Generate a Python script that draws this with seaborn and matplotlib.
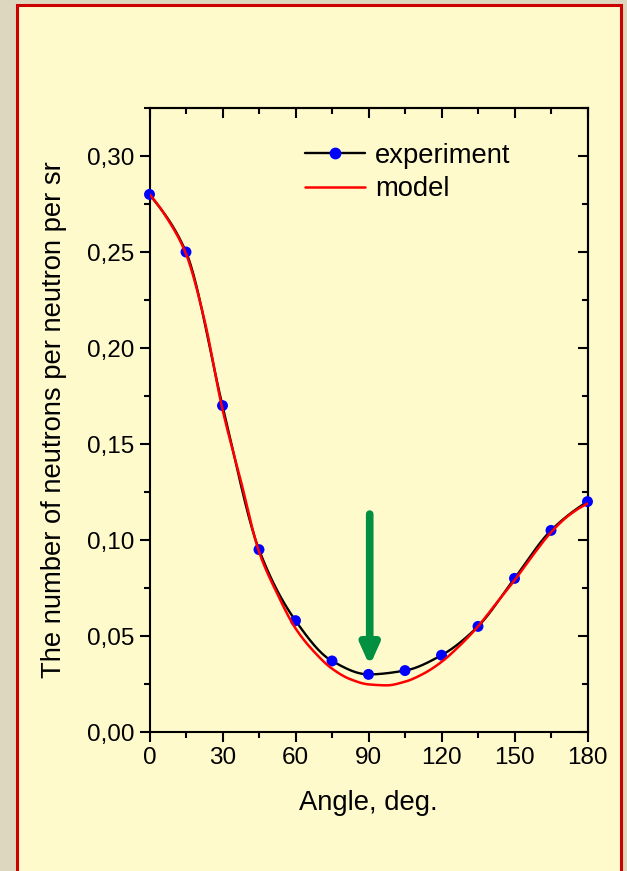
import numpy as np
import pandas as pd
import matplotlib
matplotlib.use("Agg")
import matplotlib.pyplot as plt
from matplotlib.patches import Rectangle
from matplotlib.lines import Line2D
from matplotlib.ticker import MultipleLocator, FuncFormatter
import seaborn as sns

# ---- data ----
exp_angle = [0, 15, 30, 45, 60, 75, 90, 105, 120, 135, 150, 165, 180]
exp_value = [0.280, 0.250, 0.170, 0.095, 0.058, 0.037, 0.030, 0.032, 0.040, 0.055, 0.080, 0.105, 0.120]

model_angle = [0, 7.5, 15, 22.5, 30, 37.5, 45, 52.5, 60, 67.5, 75, 82.5, 90, 97.5,
               105, 112.5, 120, 127.5, 135, 142.5, 150, 157.5, 165, 172.5, 180]
model_value = [0.280, 0.267, 0.249, 0.215, 0.168, 0.131, 0.094, 0.072, 0.054, 0.042,
               0.033, 0.0275, 0.0248, 0.0243, 0.0262, 0.0303, 0.0365, 0.045, 0.055, 0.067,
               0.079, 0.092, 0.104, 0.113, 0.119]

x_ticks = [0, 30, 60, 90, 120, 150, 180]
y_ticks = [0.00, 0.05, 0.10, 0.15, 0.20, 0.25, 0.30]


def smooth_connect(x, y, n=500):
    """Shape-preserving Hermite curve used only as the smooth line style joining points."""
    x = np.asarray(x, float); y = np.asarray(y, float)
    h = np.diff(x); delta = np.diff(y) / h
    m = len(x); d = np.zeros(m)
    for k in range(1, m - 1):
        if delta[k - 1] * delta[k] > 0:
            w1 = 2 * h[k] + h[k - 1]; w2 = h[k] + 2 * h[k - 1]
            d[k] = (w1 + w2) / (w1 / delta[k - 1] + w2 / delta[k])
    d[0] = 0.8 * delta[0]
    d[-1] = 0.8 * delta[-1]
    xs = np.linspace(x[0], x[-1], n)
    i = np.clip(np.searchsorted(x, xs) - 1, 0, m - 2)
    t = (xs - x[i]) / h[i]
    h00 = 2 * t**3 - 3 * t**2 + 1; h10 = t**3 - 2 * t**2 + t
    h01 = -2 * t**3 + 3 * t**2; h11 = t**3 - t**2
    ys = h00 * y[i] + h10 * h[i] * d[i] + h01 * y[i + 1] + h11 * h[i] * d[i + 1]
    return xs, ys


sns.set_theme(style="ticks")
plt.rcParams['font.family'] = ['Liberation Sans', 'DejaVu Sans']
plt.rcParams['text.color'] = 'black'
plt.rcParams['axes.labelcolor'] = 'black'
plt.rcParams['xtick.color'] = 'black'
plt.rcParams['ytick.color'] = 'black'

fig = plt.figure(figsize=(6.27, 8.71), dpi=100)
fig.patch.set_facecolor("#DED7BF")

# background panel in its own axes beneath the plot
bg = fig.add_axes([0, 0, 1, 1], zorder=-10)
bg.set_axis_off()
bg.set_xlim(0, 627); bg.set_ylim(871, 0)
bg.add_patch(Rectangle((17, 5.5), 604, 880, facecolor="#FFFACC",
                       edgecolor="#CC0000", linewidth=2.2))

ax = fig.add_axes([149.5 / 627, 1 - 732 / 871, (587.5 - 149.5) / 627, (732 - 108) / 871])
ax.set_facecolor("none")

ex_x, ex_y = smooth_connect(exp_angle, exp_value)
md_x, md_y = smooth_connect(model_angle, model_value)

sns.lineplot(x=ex_x, y=ex_y, ax=ax, color="black", linewidth=1.7, sort=False, zorder=2)
sns.scatterplot(x=exp_angle, y=exp_value, ax=ax, color="#0000FF", s=62,
                edgecolor="none", zorder=3, clip_on=False)
sns.lineplot(x=md_x, y=md_y, ax=ax, color="#FF0000", linewidth=1.8, sort=False, zorder=4)

ax.set_xlim(0, 180)
ax.set_ylim(0, 0.325)
ax.set_xticks(x_ticks)
ax.set_yticks(y_ticks)
ax.xaxis.set_minor_locator(MultipleLocator(15))
ax.yaxis.set_minor_locator(MultipleLocator(0.025))
ax.yaxis.set_major_formatter(FuncFormatter(lambda v, p: f"{v:.2f}".replace(".", ",")))

for s in ax.spines.values():
    s.set_visible(True)
    s.set_color("black")
    s.set_linewidth(1.5)

ax.tick_params(axis="both", which="major", length=7, width=1.5, colors="black",
               labelsize=17.5, pad=4)
ax.tick_params(axis="both", which="minor", length=4, width=1.5, colors="black")
ax.tick_params(axis="x", which="both", direction="out", bottom=True, top=False)
ax.tick_params(axis="y", which="both", direction="out", left=True, right=False)

# mirrored inward ticks on top and right
sec_x = ax.secondary_xaxis("top")
sec_x.set_xticks(x_ticks)
sec_x.xaxis.set_minor_locator(MultipleLocator(15))
sec_x.tick_params(which="major", direction="in", length=7, width=1.5, labeltop=False)
sec_x.tick_params(which="minor", direction="in", length=4, width=1.5)
sec_x.spines["top"].set_linewidth(1.5)
sec_y = ax.secondary_yaxis("right")
sec_y.set_yticks(y_ticks)
sec_y.yaxis.set_minor_locator(MultipleLocator(0.025))
sec_y.tick_params(which="major", direction="in", length=7, width=1.5, labelright=False)
sec_y.tick_params(which="minor", direction="in", length=4, width=1.5)
sec_y.spines["right"].set_linewidth(1.5)

ax.set_xlabel("Angle, deg.", fontsize=19.7, labelpad=15, color="black")
ax.set_ylabel("The number of neutrons per neutron per sr", fontsize=19.7,
              labelpad=14, color="black")

# green arrow marking the minimum
ax.annotate("", xy=(90.5, 0.0345), xytext=(90.5, 0.1135),
            arrowprops=dict(arrowstyle="-|>,head_width=0.45,head_length=1.0",
                            color="#009040", linewidth=5.5, shrinkA=0, shrinkB=0),
            zorder=5)

handles = [Line2D([], [], color="black", linewidth=1.7, marker="o",
                  markerfacecolor="#0000FF", markeredgecolor="#0000FF", markersize=7.5),
           Line2D([], [], color="#FF0000", linewidth=1.8)]
leg = ax.legend(handles, ["experiment", "model"], loc="upper left",
                bbox_to_anchor=(0.33, 0.962), frameon=False, fontsize=19.7,
                handlelength=2.2, handletextpad=0.35, labelspacing=0.28,
                borderaxespad=0)

fig.savefig("out.png", dpi=100, facecolor=fig.get_facecolor())
